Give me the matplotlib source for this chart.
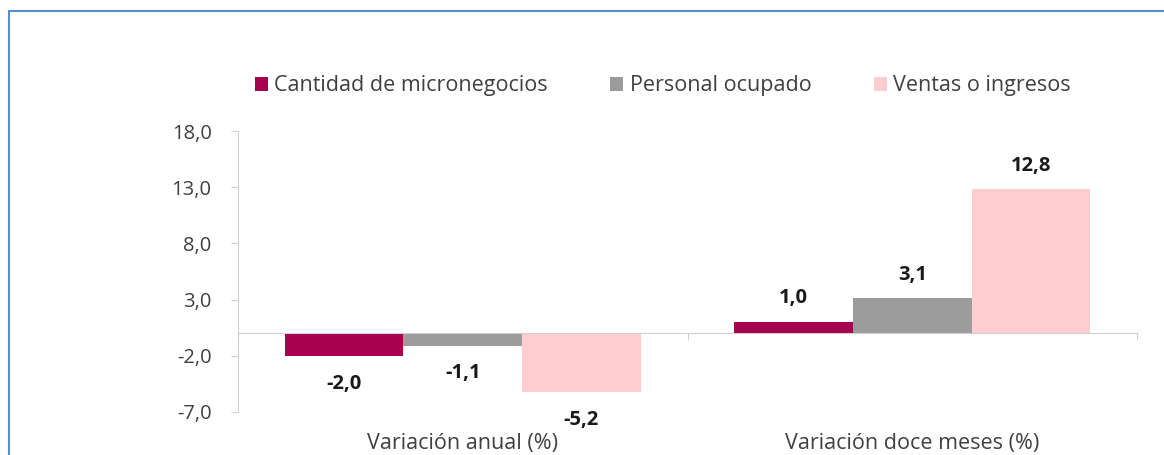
import numpy as np
import matplotlib.pyplot as plt
from matplotlib.patches import Rectangle
from matplotlib.transforms import offset_copy

plt.rcParams['font.family'] = ['Open Sans', 'DejaVu Sans']

# ---- data ----
categories = ['Variación anual (%)', 'Variación doce meses (%)']
series = ['Cantidad de micronegocios', 'Personal ocupado', 'Ventas o ingresos']
micronegocios = [-2.0, 1.0]
personal = [-1.1, 3.1]
ventas = [-5.2, 12.8]
values = [micronegocios, personal, ventas]
colors = ['#A6004F', '#9C9C9C', '#FFCDD0']
yticks = [-7.0, -2.0, 3.0, 8.0, 13.0, 18.0]

fig = plt.figure(figsize=(11.64, 4.55), dpi=100)
ax = fig.add_axes([238/1164, 1-412/455, (1137-238)/1164, (412-131)/455])

x = np.arange(len(categories))
w = 0.264
handles = []
for k, (vals, col, name) in enumerate(zip(values, colors, series)):
    bars = ax.bar(x + (k-1)*w, vals, w, color=col, label=name)
    handles.append(bars)
    for xi, v in zip(x + (k-1)*w, vals):
        off = 17 if v >= 0 else -20
        ax.annotate(f'{v:.1f}'.replace('.', ','), (xi, v), xytext=(0, off),
                    textcoords='offset points', ha='center', va='center',
                    fontsize=14.5, fontweight='bold', color='#1a1a1a')

ax.set_xlim(-0.5, 1.5)
ax.set_ylim(-7, 18)
ax.set_yticks(yticks)
ax.set_yticklabels([f'{t:.1f}'.replace('.', ',') for t in yticks])
ax.tick_params(axis='y', colors='#D0D0D0', labelcolor='#404040', labelsize=14.5,
               length=5, pad=14)

ax.spines['top'].set_visible(False)
ax.spines['right'].set_visible(False)
ax.spines['left'].set_color('#D0D0D0')
ax.spines['bottom'].set_color('#D0D0D0')
ax.spines['bottom'].set_position(('data', 0))
ax.set_xticks([-0.5, 0.5, 1.5])
ax.set_xticklabels([])
ax.tick_params(axis='x', colors='#D0D0D0', length=5, direction='out')

# category names sit below the plot, not on the zero line
tr = offset_copy(ax.transData, fig=fig, y=-31, units='dots')
for xi, c in zip(x, categories):
    ax.text(xi, -7, c, ha='center', va='center', fontsize=15.5, color='#404040',
            transform=tr)

fig.legend(handles=handles, loc='center', bbox_to_anchor=(663/1164, 1-86/455),
           ncol=3, frameon=False, fontsize=15.5, handlelength=0.6, handleheight=0.6,
           handletextpad=0.3, columnspacing=2.9, labelcolor='#404040')

# blue frame around the chart (cropped on right/bottom)
fig.patches.append(Rectangle((9/1164, -0.1), 1.2, 1-11/455+0.1, transform=fig.transFigure,
                             fill=False, edgecolor='#5B8BD0', linewidth=1.5))

fig.savefig('out.png', dpi=100)
